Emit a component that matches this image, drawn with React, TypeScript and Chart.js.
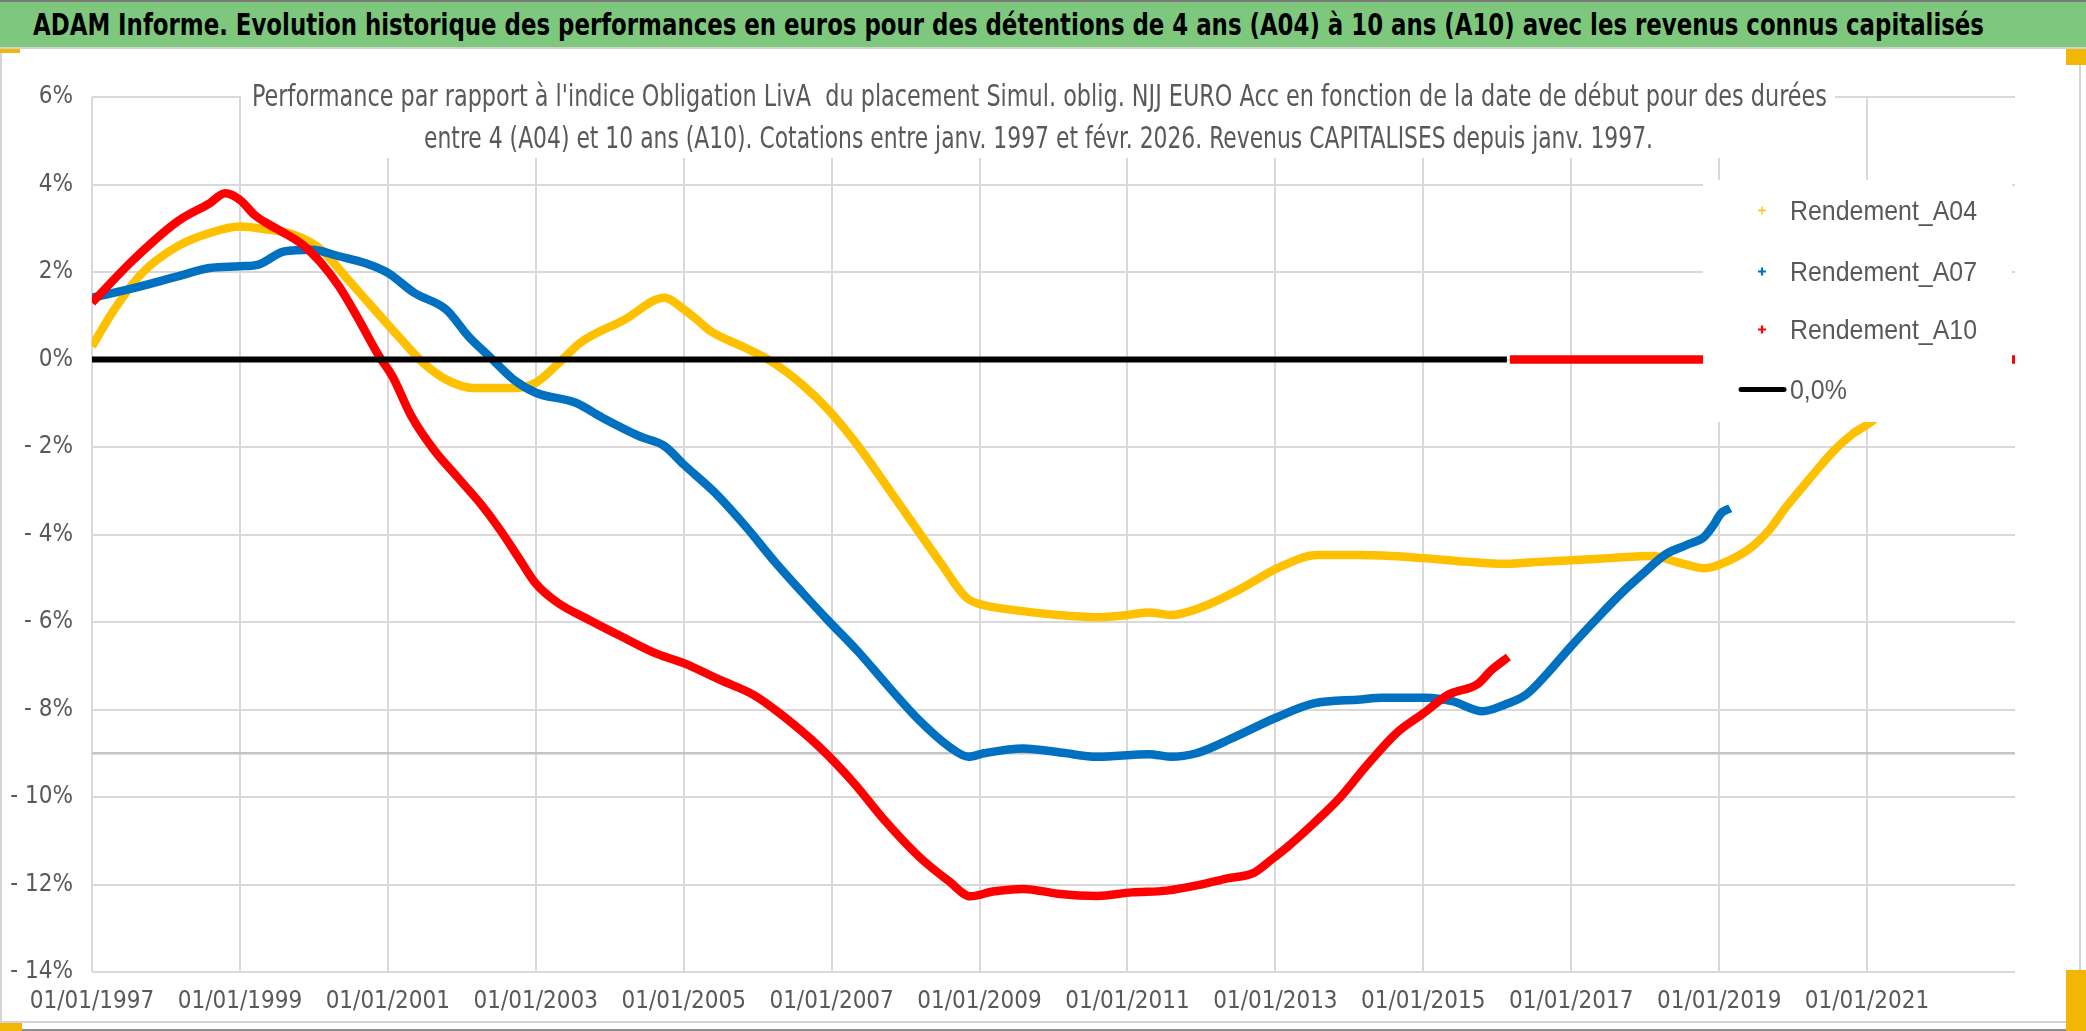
import React, { useEffect, useLayoutEffect, useRef } from "react";
import { Chart, registerables } from "chart.js";

Chart.register(...registerables);

const W = 2086;
const H = 1031;

const TITLE =
  "ADAM Informe. Evolution historique des performances en euros pour des détentions de 4 ans (A04) à 10 ans (A10) avec les revenus connus capitalisés";
const SUBTITLE_LINES = [
  "Performance par rapport à l'indice Obligation LivA  du placement Simul. oblig. NJJ EURO Acc en fonction de la date de début pour des durées",
  "entre 4 (A04) et 10 ans (A10). Cotations entre janv. 1997 et févr. 2026. Revenus CAPITALISES depuis janv. 1997.",
];
const LEGEND_LABELS = ["Rendement_A04", "Rendement_A07", "Rendement_A10", "0,0%"];

const X_TICK_YEARS = [1997, 1999, 2001, 2003, 2005, 2007, 2009, 2011, 2013, 2015, 2017, 2019, 2021];
const Y_TICK_VALUES = [6, 4, 2, 0, -2, -4, -6, -8, -10, -12, -14];

// Rendement_A04 (yellow)
const A04_YEARS = [
  1997.0, 1997.3, 1997.68, 1998.16, 1998.59, 1999.0, 1999.37, 1999.73, 2000.1, 2000.46,
  2000.82, 2001.18, 2001.48, 2001.79, 2002.15, 2002.7, 2003.0, 2003.36, 2003.6, 2004.2,
  2004.74, 2005.0, 2005.2, 2005.36, 2005.83, 2006.18, 2006.6, 2006.95, 2007.36, 2007.71,
  2008.12, 2008.47, 2008.82, 2009.0, 2009.53, 2010.06, 2010.58, 2011.0, 2011.29, 2011.58,
  2011.99, 2012.52, 2013.05, 2013.57, 2014.15, 2015.0, 2015.57, 2016.1, 2016.63, 2017.0,
  2017.51, 2018.1, 2018.45, 2018.8, 2019.0, 2019.39, 2019.68, 2019.91, 2020.21, 2020.56,
  2020.79, 2021.09, 2021.25,
];
const A04_VALUES = [
  0.3, 1.14, 1.98, 2.59, 2.89, 3.04, 2.97, 2.85, 2.51, 1.83,
  1.14, 0.46, -0.08, -0.46, -0.65, -0.65, -0.53, 0.0, 0.38, 0.91,
  1.41, 1.15, 0.88, 0.65, 0.27, -0.04, -0.57, -1.14, -1.98, -2.81,
  -3.8, -4.64, -5.44, -5.59, -5.74, -5.84, -5.89, -5.84, -5.78, -5.84,
  -5.67, -5.25, -4.75, -4.47, -4.47, -4.54, -4.62, -4.67, -4.62, -4.59,
  -4.54, -4.49, -4.64, -4.77, -4.69, -4.35, -3.89, -3.36, -2.75, -2.07,
  -1.72, -1.38, -1.1,
];

// Rendement_A07 (blue)
const A07_YEARS = [
  1997.0, 1997.56, 1998.16, 1998.59, 1999.0, 1999.25, 1999.6, 1999.97, 2000.34, 2000.7,
  2001.0, 2001.36, 2001.79, 2002.09, 2002.39, 2002.7, 2003.0, 2003.54, 2003.9, 2004.41,
  2004.74, 2005.0, 2005.42, 2005.83, 2006.24, 2006.6, 2006.95, 2007.36, 2007.77, 2008.18,
  2008.59, 2008.85, 2009.06, 2009.59, 2010.12, 2010.59, 2011.29, 2011.58, 2011.93, 2012.46,
  2012.99, 2013.52, 2014.15, 2014.45, 2015.04, 2015.39, 2015.8, 2016.1, 2016.39, 2016.68,
  2017.0, 2017.33, 2017.68, 2017.98, 2018.27, 2018.56, 2018.8, 2018.91, 2019.03, 2019.15,
];
const A07_VALUES = [
  1.41, 1.63, 1.9, 2.09, 2.13, 2.17, 2.47, 2.51, 2.36, 2.2,
  1.98, 1.52, 1.14, 0.53, 0.04, -0.46, -0.76, -0.99, -1.33, -1.76,
  -1.98, -2.4, -3.04, -3.8, -4.64, -5.32, -5.96, -6.68, -7.48, -8.24,
  -8.85, -9.08, -9.0, -8.89, -8.99, -9.08, -9.02, -9.08, -9.0, -8.62,
  -8.2, -7.86, -7.77, -7.73, -7.73, -7.81, -8.04, -7.89, -7.66, -7.17,
  -6.55, -5.95, -5.34, -4.88, -4.46, -4.24, -4.05, -3.82, -3.51, -3.4,
];

// Rendement_A10 (red)
const A10_YEARS = [
  1997.0, 1997.56, 1998.16, 1998.59, 1998.8, 1999.0, 1999.2, 1999.4, 1999.6, 1999.85,
  2000.1, 2000.34, 2000.58, 2000.88, 2001.06, 2001.32, 2001.62, 2001.93, 2002.25, 2002.52,
  2002.79, 2003.0, 2003.28, 2003.73, 2004.18, 2004.64, 2005.0, 2005.5, 2005.95, 2006.3,
  2006.83, 2007.3, 2007.71, 2008.18, 2008.59, 2008.88, 2009.18, 2009.59, 2010.06, 2010.59,
  2011.06, 2011.53, 2012.0, 2012.35, 2012.7, 2012.94, 2013.17, 2013.52, 2013.87, 2014.22,
  2014.63, 2015.0, 2015.33, 2015.74, 2015.92, 2016.15,
];
const A10_VALUES = [
  1.3, 2.28, 3.16, 3.57, 3.8, 3.65, 3.3, 3.08, 2.89, 2.62,
  2.2, 1.67, 0.99, 0.08, -0.38, -1.3, -2.06, -2.67, -3.29, -3.9,
  -4.59, -5.12, -5.54, -5.96, -6.35, -6.73, -6.94, -7.33, -7.67, -8.09,
  -8.85, -9.68, -10.52, -11.36, -11.93, -12.27, -12.16, -12.1, -12.21, -12.26,
  -12.18, -12.14, -12.0, -11.86, -11.74, -11.44, -11.13, -10.6, -10.02, -9.31,
  -8.55, -8.09, -7.67, -7.41, -7.1, -6.8,
];
// A10 start dates without a full 10-year history, plotted at 0
const A10_ZERO_YEARS = [2016.17, 2023.0];
const A10_ZERO_VALUES = [0, 0];

// 0,0% reference line
const ZERO_YEARS = [1997.0, 2016.13];
const ZERO_VALUES = [0, 0];

// darker horizontal guide line
const GUIDE_YEARS = [1997.0, 2023.0];
const GUIDE_VALUES = [-9, -9];

const FONT_NARROW = "'Liberation Sans Narrow', 'DejaVu Sans Condensed', 'Liberation Sans', sans-serif";
const TEXT_GREY = "#595959";
const GRID = "#D9D9D9";
const C_A04 = "#FFC000";
const C_A07 = "#0070C0";
const C_A10 = "#FF0000";

const pts = (xs: number[], ys: (number | null)[]) => xs.map((x, i) => ({ x, y: ys[i] }));

function fitText(
  ctx: CanvasRenderingContext2D,
  text: string,
  x: number,
  y: number,
  width: number,
  font: string,
  color: string
) {
  ctx.save();
  ctx.font = font;
  const m = ctx.measureText(text).width;
  const s = m > 0 ? width / m : 1;
  ctx.translate(x, y);
  ctx.scale(s, 1);
  ctx.fillStyle = color;
  ctx.textAlign = "left";
  ctx.textBaseline = "alphabetic";
  ctx.fillText(text, 0, 0);
  ctx.restore();
  return s;
}

const framePlugin = {
  id: "frame",
  beforeDraw(chart: any) {
    const ctx = chart.ctx as CanvasRenderingContext2D;
    ctx.save();
    ctx.fillStyle = "#FFFFFF";
    ctx.fillRect(0, 0, W, H);
    ctx.strokeStyle = "#D4D4D4";
    ctx.lineWidth = 2;
    ctx.beginPath();
    ctx.moveTo(2080, 52);
    ctx.lineTo(2080, 1022);
    ctx.moveTo(0, 1022);
    ctx.lineTo(2080, 1022);
    ctx.moveTo(1, 52);
    ctx.lineTo(1, 1022);
    ctx.stroke();
    ctx.strokeStyle = "#8C8C8C";
    ctx.beginPath();
    ctx.moveTo(0, 1030);
    ctx.lineTo(W, 1030);
    ctx.stroke();
    ctx.restore();
  },
};

const subtitlePlugin = {
  id: "subtitleBox",
  beforeDatasetsDraw(chart: any) {
    const ctx = chart.ctx as CanvasRenderingContext2D;
    ctx.save();
    ctx.fillStyle = "#FFFFFF";
    ctx.fillRect(241, 60, 1594, 98);
    ctx.restore();
    const font = `31px ${FONT_NARROW}`;
    fitText(ctx, SUBTITLE_LINES[0], 252, 106, 1575, font, TEXT_GREY);
    fitText(ctx, SUBTITLE_LINES[1], 424, 148, 1229, font, TEXT_GREY);
  },
};

const legendPlugin = {
  id: "customLegend",
  afterDatasetsDraw(chart: any) {
    const ctx = chart.ctx as CanvasRenderingContext2D;
    ctx.save();
    ctx.fillStyle = "#FFFFFF";
    ctx.fillRect(1703, 180, 309, 242);
    ctx.restore();

    const font = `28px 'Liberation Sans', sans-serif`;
    ctx.save();
    ctx.font = font;
    const scale = 187 / ctx.measureText(LEGEND_LABELS[0]).width;
    ctx.restore();

    const rows = [
      { label: LEGEND_LABELS[0], color: C_A04, y: 220, mark: "plus", lw: 1.3 },
      { label: LEGEND_LABELS[1], color: C_A07, y: 281, mark: "plus", lw: 2.2 },
      { label: LEGEND_LABELS[2], color: C_A10, y: 339, mark: "plus", lw: 2.2 },
      { label: LEGEND_LABELS[3], color: "#000000", y: 399, mark: "line", lw: 5 },
    ];
    rows.forEach((r) => {
      const cy = r.y - 9.5;
      ctx.save();
      ctx.strokeStyle = r.color;
      ctx.lineWidth = r.lw;
      ctx.beginPath();
      if (r.mark === "plus") {
        ctx.moveTo(1758, cy);
        ctx.lineTo(1766, cy);
        ctx.moveTo(1762, cy - 4);
        ctx.lineTo(1762, cy + 4);
      } else {
        ctx.lineCap = "round";
        ctx.moveTo(1741, cy);
        ctx.lineTo(1784, cy);
      }
      ctx.stroke();
      ctx.restore();

      ctx.save();
      ctx.font = font;
      ctx.translate(1790, r.y);
      ctx.scale(scale, 1);
      ctx.fillStyle = TEXT_GREY;
      ctx.textBaseline = "alphabetic";
      ctx.fillText(r.label, 0, 0);
      ctx.restore();
    });
  },
};

export default function App() {
  const canvasRef = useRef<HTMLCanvasElement | null>(null);
  const titleRef = useRef<HTMLSpanElement | null>(null);

  useLayoutEffect(() => {
    document.body.style.margin = "0";
    const el = titleRef.current;
    if (el) {
      el.style.transform = "none";
      const w = el.getBoundingClientRect().width;
      if (w > 0) el.style.transform = `scaleX(${1951 / w})`;
    }
  }, []);

  useEffect(() => {
    if (!canvasRef.current) return;
    const a10Data = [
      ...pts(A10_YEARS, A10_VALUES),
      { x: 2016.16, y: null },
      ...pts(A10_ZERO_YEARS, A10_ZERO_VALUES),
    ];
    const common = {
      pointRadius: 0,
      pointHoverRadius: 0,
      showLine: true,
      fill: false,
      cubicInterpolationMode: "monotone",
      borderCapStyle: "butt",
      borderJoinStyle: "round",
      spanGaps: false,
    };
    const chart = new Chart(canvasRef.current, {
      type: "scatter",
      data: {
        datasets: [
          { ...common, label: "guide", data: pts(GUIDE_YEARS, GUIDE_VALUES), borderColor: "#C4C4C4", borderWidth: 2.5, order: 10 },
          { ...common, label: LEGEND_LABELS[0], data: pts(A04_YEARS, A04_VALUES), borderColor: C_A04, borderWidth: 8.5, order: 4 },
          { ...common, label: LEGEND_LABELS[1], data: pts(A07_YEARS, A07_VALUES), borderColor: C_A07, borderWidth: 8.5, order: 3 },
          { ...common, label: LEGEND_LABELS[2], data: a10Data, borderColor: C_A10, borderWidth: 8.5, order: 2 },
          { ...common, label: LEGEND_LABELS[3], data: pts(ZERO_YEARS, ZERO_VALUES), borderColor: "#000000", borderWidth: 6, order: 1 },
        ] as any,
      },
      options: {
        animation: false,
        responsive: false,
        maintainAspectRatio: false,
        devicePixelRatio: 1,
        events: [],
        layout: { padding: { left: 0, top: 97, right: 71, bottom: 0 } },
        plugins: {
          legend: { display: false },
          tooltip: { enabled: false },
          title: { display: false },
        },
        scales: {
          x: {
            type: "linear",
            min: 1997,
            max: 2023,
            afterFit: (s: any) => {
              s.height = 59;
            },
            border: { display: false },
            grid: {
              color: (c: any) => (c.tick && X_TICK_YEARS.includes(c.tick.value) ? GRID : "rgba(0,0,0,0)"),
              lineWidth: 2,
              drawTicks: false,
            },
            ticks: {
              stepSize: 2,
              autoSkip: false,
              maxRotation: 0,
              minRotation: 0,
              padding: 15,
              color: TEXT_GREY,
              font: { family: FONT_NARROW, size: 24 },
              callback: (v: any) => (X_TICK_YEARS.includes(Number(v)) ? `01/01/${v}` : ""),
            },
          },
          y: {
            type: "linear",
            min: -14,
            max: 6,
            afterFit: (s: any) => {
              s.width = 92;
            },
            border: { display: false },
            grid: { color: GRID, lineWidth: 2, drawTicks: false },
            ticks: {
              stepSize: 2,
              padding: 19,
              color: TEXT_GREY,
              font: { family: FONT_NARROW, size: 24 },
              callback: (v: any) => {
                const n = Number(v);
                if (!Y_TICK_VALUES.includes(n)) return "";
                if (n === 0) return "0%";
                return n > 0 ? `${n}%` : `- ${-n}%`;
              },
            },
          },
        },
      } as any,
      plugins: [framePlugin, subtitlePlugin, legendPlugin],
    });
    return () => chart.destroy();
  }, []);

  const handle: React.CSSProperties = { position: "absolute", background: "#F2B705" };

  return (
    <div style={{ position: "absolute", left: 0, top: 0, width: W, height: H, overflow: "hidden", background: "#FFFFFF" }}>
      <canvas ref={canvasRef} width={W} height={H} style={{ position: "absolute", left: 0, top: 0, width: W, height: H }} />
      <div
        style={{
          position: "absolute",
          left: 0,
          top: 0,
          width: W,
          height: 49,
          background: "#7EC87E",
          borderTop: "2px solid #7A7A7A",
          borderBottom: "2px solid #D0D0D0",
          boxSizing: "border-box",
          overflow: "hidden",
        }}
      >
        <span
          ref={titleRef}
          style={{
            position: "absolute",
            left: 33,
            top: 3,
            lineHeight: "40px",
            fontFamily: FONT_NARROW,
            fontWeight: "bold",
            fontSize: 30,
            color: "#000000",
            whiteSpace: "nowrap",
            display: "inline-block",
            transformOrigin: "left center",
          }}
        >
          {TITLE}
        </span>
      </div>
      <div style={{ ...handle, left: 0, top: 49, width: 20, height: 4 }} />
      <div style={{ ...handle, left: 2066, top: 49, width: 20, height: 16 }} />
      <div style={{ ...handle, left: 2066, top: 970, width: 20, height: 61 }} />
      <div style={{ ...handle, left: 0, top: 1023, width: 22, height: 8 }} />
    </div>
  );
}
